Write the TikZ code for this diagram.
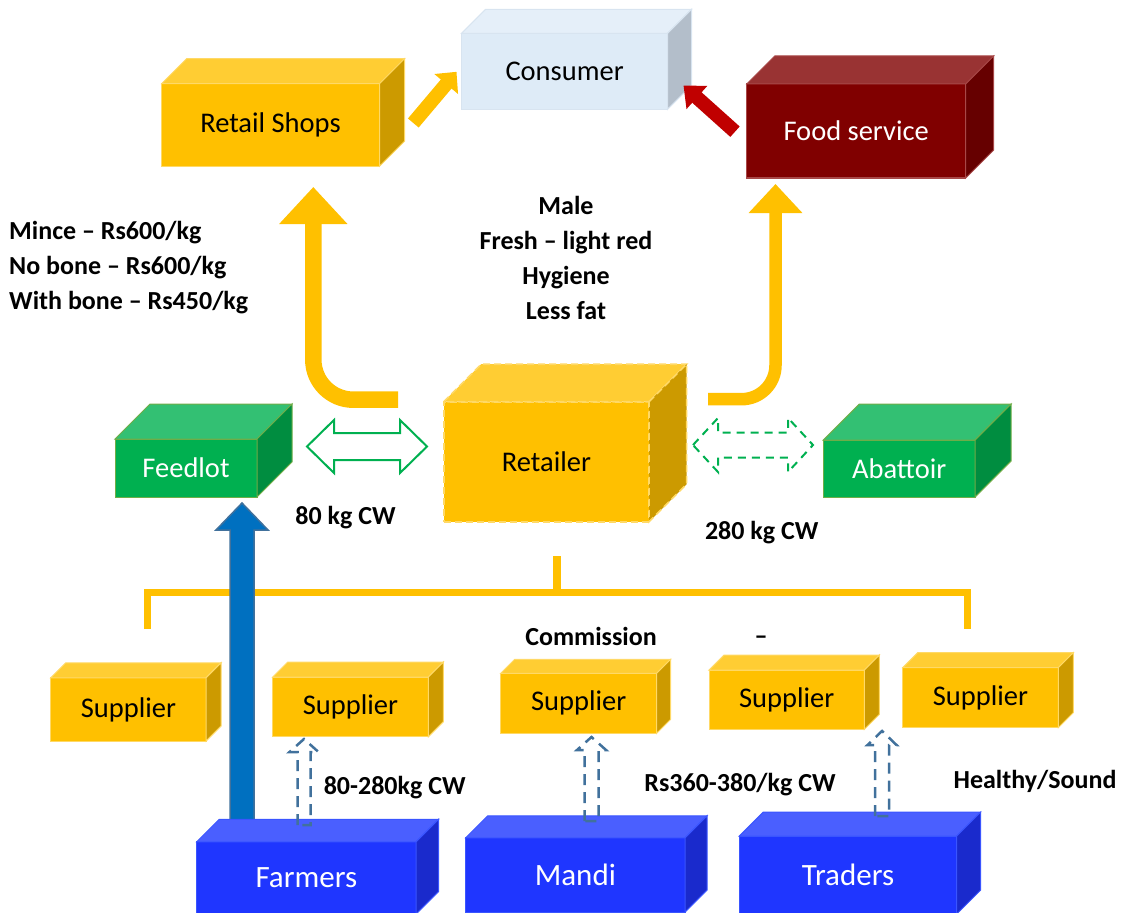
\documentclass[tikz,border=0pt]{standalone}
\usepackage{fontspec}
\setmainfont{Carlito}
\usetikzlibrary{calc,arrows.meta}

% palettes: F = front, T = top, S = side, B = border
\definecolor{goldF}{HTML}{FFC000}
\definecolor{goldT}{HTML}{FFCD33}
\definecolor{goldS}{HTML}{CC9A00}
\definecolor{goldB}{HTML}{FFD966}
\definecolor{skyF}{HTML}{DEEBF7}
\definecolor{skyT}{HTML}{E5EFF9}
\definecolor{skyS}{HTML}{B3BECA}
\definecolor{skyB}{HTML}{D8E4F0}
\definecolor{wineF}{HTML}{800000}
\definecolor{wineT}{HTML}{993333}
\definecolor{wineS}{HTML}{660000}
\definecolor{wineB}{HTML}{A84848}
\definecolor{grassF}{HTML}{00B050}
\definecolor{grassT}{HTML}{33C073}
\definecolor{grassS}{HTML}{008D40}
\definecolor{grassB}{HTML}{70AD47}
\definecolor{royalF}{HTML}{1F36FF}
\definecolor{royalT}{HTML}{4A5FFF}
\definecolor{royalS}{HTML}{1A2ACC}
\definecolor{royalB}{HTML}{3A55FF}
\definecolor{flowblue}{HTML}{0070C0}
\definecolor{flowedge}{HTML}{41719C}
\definecolor{redarrow}{HTML}{C00000}

% a 3-D box: front face as a node, top and right faces drawn from its anchors
% #1 extra options, #2 name, #3 centre of front face, #4 width, #5 height,
% #6 depth, #7 palette, #8 text
\newcommand\solidbox[8][]{%
  \node[inner sep=0pt, outer sep=0pt, minimum width=#4pt, minimum height=#5pt,
        fill=#7F, draw=#7B, line width=1pt, #1] (#2) at (#3) {#8};
  \filldraw[fill=#7T, draw=#7B, line width=1pt, #1]
    (#2.north west) -- ++(#6,-#6) -- ($(#2.north east)+(#6,-#6)$)
    -- (#2.north east) -- cycle;
  \filldraw[fill=#7S, draw=#7B, line width=1pt, #1]
    (#2.north east) -- ++(#6,-#6) -- ($(#2.south east)+(#6,-#6)$)
    -- (#2.south east) -- cycle;
}

% horizontal two-headed block arrow: #1 style, #2 left x, #3 right x,
% #4 centre y, #5 half shaft, #6 half head, #7 head length
\newcommand\twowayblock[7]{%
  \draw[#1] (#2,#4) -- ({#2+#7},{#4-#6}) -- ({#2+#7},{#4-#5})
    -- ({#3-#7},{#4-#5}) -- ({#3-#7},{#4-#6}) -- (#3,#4)
    -- ({#3-#7},{#4+#6}) -- ({#3-#7},{#4+#5}) -- ({#2+#7},{#4+#5})
    -- ({#2+#7},{#4+#6}) -- cycle;
}
% upward block arrow: #1 style, #2 centre x, #3 tail y, #4 tip y,
% #5 half shaft, #6 half head, #7 head length
\newcommand\upblock[7]{%
  \draw[#1] ({#2-#5},#3) -- ({#2-#5},{#4+#7}) -- ({#2-#6},{#4+#7})
    -- (#2,#4) -- ({#2+#6},{#4+#7}) -- ({#2+#5},{#4+#7})
    -- ({#2+#5},#3) -- cycle;
}

\tikzset{
  boxtxt/.style={font=\fontsize{28.5pt}{34pt}\selectfont},
  bigtxt/.style={font=\fontsize{31pt}{37pt}\selectfont, text=white},
  note/.style={font=\fontsize{26pt}{35pt}\selectfont\bfseries, inner sep=0pt},
  flowline/.style={draw=flowedge, line width=2.5pt, dash pattern=on 11pt off 7pt},
}

\begin{document}
\begin{tikzpicture}[x=1pt,y=-1pt]
\useasboundingbox (0,0) rectangle (1123,912);
\clip (0,0) rectangle (1123,912);

% ---- top row
\solidbox[boxtxt]{retail}{270.5,125}{218}{82.5}{25}{gold}{Retail Shops}
\solidbox[boxtxt]{consumer}{564.6,71.3}{206}{76}{24}{sky}{Consumer}
\solidbox[boxtxt, text=white]{food}{856.2,131}{219}{94}{28}{wine}{Food service}

% ---- middle row
\solidbox[boxtxt, text=white]{feedlot}{186,468}{142}{58}{35}{grass}{Feedlot}
\solidbox[boxtxt, dash pattern=on 7pt off 4pt, line width=1.6pt]{retailer}{546.4,461.7}{205.3}{120}{37.5}{gold}{Retailer}
\solidbox[boxtxt, text=white]{abattoir}{899.2,468.5}{151.7}{57}{36}{grass}{Abattoir}

% ---- supplier row
\solidbox[boxtxt]{supA}{128.4,709.4}{155.3}{63.3}{15}{gold}{Supplier}
\solidbox[boxtxt]{supB}{350.5,706.9}{155.6}{59.7}{15}{gold}{Supplier}
\solidbox[boxtxt]{supC}{578.7,703.3}{156}{60}{14}{gold}{Supplier}
\solidbox[boxtxt]{supD}{786.7,699.7}{155.3}{59.3}{15}{gold}{Supplier}
\solidbox[boxtxt]{supE}{980.5,697.7}{155.6}{60}{15}{gold}{Supplier}

% ---- bracket gathering the suppliers
\draw[goldF, line width=7pt] (147,629) -- (147,592) -- (967,592) -- (967,629);
\draw[goldF, line width=8pt] (557,556) -- (557,592);

% ---- farmers to feedlot
\upblock{fill=flowblue, draw=flowedge, line width=1.5pt}{242}{822}{503}{12}{26}{27}

% ---- sources
\solidbox[bigtxt]{farmers}{306.4,877.9}{219.3}{72.3}{22.5}{royal}{Farmers}
\solidbox[bigtxt]{mandi}{575.4,874.9}{219.3}{74.3}{22}{royal}{Mandi}
\solidbox[bigtxt]{traders}{848,875}{217.4}{78}{24}{royal}{Traders}

% ---- sources to suppliers
\upblock{flowline}{304}{825}{739}{6.5}{14.5}{13}
\upblock{flowline}{591.5}{821}{737}{7}{14.5}{13}
\upblock{flowline}{882}{816}{731}{7}{14.5}{14}

% ---- retailer exchanges
\twowayblock{draw=grassF, fill=white, line width=2pt}{307}{427}{446.5}{13.5}{26.5}{27}
\twowayblock{draw=grassF, line width=2pt, dash pattern=on 8pt off 6pt}{693}{813}{445}{12.5}{27}{25}

% ---- retailer up to retail shops and food service
\coordinate (lsTail) at (398,399.7);
\coordinate (lsBend) at (313.3,399.7);
\coordinate (lsTip) at (313.3,187);
\draw[goldF, line width=16.5pt, rounded corners=40pt,
      -{Triangle[length=37pt,width=66pt]}] (lsTail) -- (lsBend) -- (lsTip);
\coordinate (fsTail) at (708,399.2);
\coordinate (fsBend) at (775.5,399.2);
\coordinate (fsTip) at (775.5,184);
\draw[goldF, line width=12.5pt, rounded corners=34pt,
      -{Triangle[length=29pt,width=52pt]}] (fsTail) -- (fsBend) -- (fsTip);

% ---- into the consumer
\coordinate (rsOut) at (413.3,123);
\coordinate (csInL) at (456.5,71.8);
\draw[goldF, line width=14pt, -{Triangle[length=16pt,width=30pt]}] (rsOut) -- (csInL);
\coordinate (fdOut) at (735,131.7);
\coordinate (csInR) at (683.5,85.5);
\draw[redarrow, line width=14pt, -{Triangle[length=18pt,width=30pt]}] (fdOut) -- (csInR);

% ---- annotations
\node[note, align=left, anchor=west] (prices) at (9,267.5)
  {Mince – Rs600/kg\\No bone – Rs600/kg\\With bone – Rs450/kg};
\node[note, align=center] (prefs) at (566,258)
  {Male\\Fresh – light red\\Hygiene\\Less fat};
\node[note] (cwA) at (345.5,518) {80 kg CW};
\node[note] (cwB) at (761.7,533) {280 kg CW};
\node[note] (comm) at (591,636.7) {Commission};
\node[note, anchor=base] (dash) at (761,644) {–};
\node[note] (cwRange) at (394.7,788) {80-280kg CW};
\node[note] (rate) at (740,785) {Rs360-380/kg CW};
\node[note] (health) at (1035,781.7) {Healthy/Sound};
\end{tikzpicture}
\end{document}
